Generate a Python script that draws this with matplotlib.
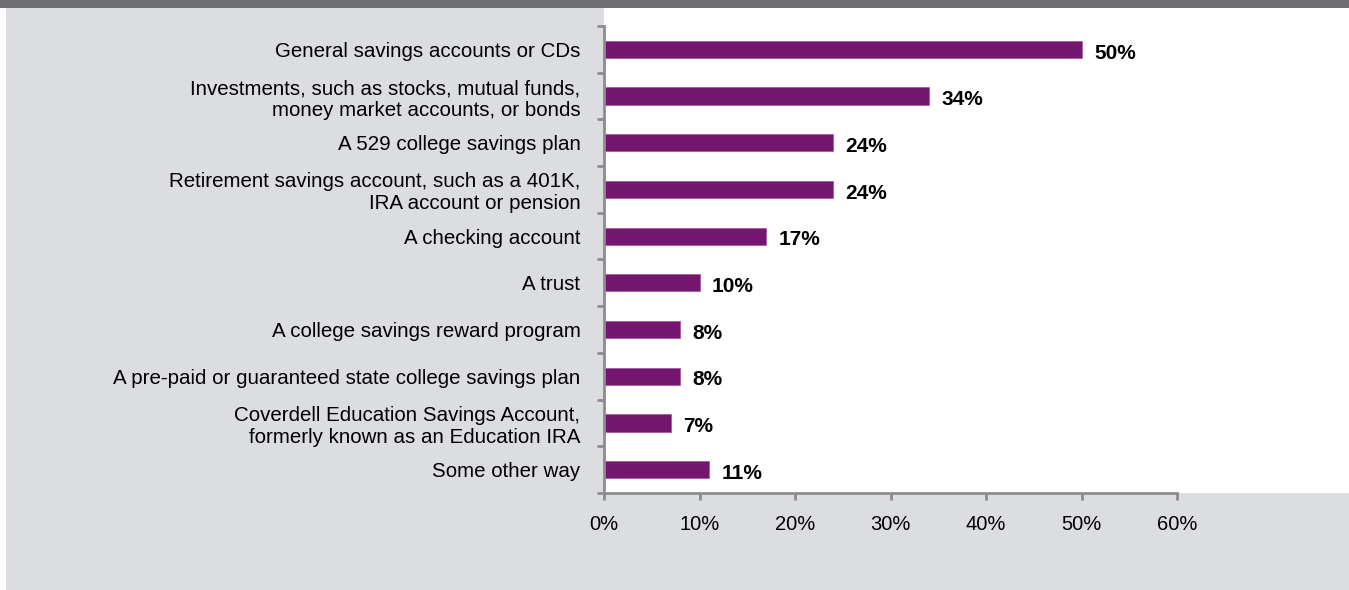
import matplotlib.pyplot as plt
from matplotlib.patches import Rectangle
from matplotlib.ticker import FuncFormatter

plt.rcParams['font.family'] = ['Liberation Sans', 'DejaVu Sans']

categories = [
    'General savings accounts or CDs',
    'Investments, such as stocks, mutual funds,\nmoney market accounts, or bonds',
    'A 529 college savings plan',
    'Retirement savings account, such as a 401K,\nIRA account or pension',
    'A checking account',
    'A trust',
    'A college savings reward program',
    'A pre-paid or guaranteed state college savings plan',
    'Coverdell Education Savings Account,\nformerly known as an Education IRA',
    'Some other way',
]
values = [50, 34, 24, 24, 17, 10, 8, 8, 7, 11]
xticks = [0, 10, 20, 30, 40, 50, 60]

W, H = 1349, 590
fig = plt.figure(figsize=(W / 100, H / 100), dpi=100)
fig.patch.set_facecolor('white')

# gray panel, dark header strip, white plotting area
fig.add_artist(Rectangle((6 / W, 0), 1, 1, transform=fig.transFigure,
                         facecolor='#dcdde0', edgecolor='none', zorder=0))
fig.add_artist(Rectangle((0, (H - 8) / H), 1, 8 / H, transform=fig.transFigure,
                         facecolor='#6f6e72', edgecolor='none', zorder=0))
fig.add_artist(Rectangle((604 / W, (H - 493) / H), 1, (493 - 8) / H,
                         transform=fig.transFigure, facecolor='white',
                         edgecolor='none', zorder=0))

ax = fig.add_axes([604 / W, (H - 493) / H, (1177 - 604) / W, (493 - 26) / H])
ax.set_facecolor('none')

y = list(range(len(categories)))
ax.barh(y, values, height=0.37, color='#74166f', edgecolor='#a45ca2',
        linewidth=0.6, zorder=2)
for yi, v in zip(y, values):
    ax.text(v + 1.3, yi + 0.08, f'{v}%', va='center', ha='left', fontsize=15,
            fontweight='bold', color='black')

ax.set_xlim(0, 60)
ax.set_ylim(len(categories) - 0.5, -0.5)
ax.set_xticks(xticks)
ax.xaxis.set_major_formatter(FuncFormatter(lambda v, p: f'{v:.0f}%'))

# category labels between boundary ticks
ax.set_yticks(y)
ax.set_yticklabels(categories, fontsize=14.8, ha='right')
ax.tick_params(axis='y', which='major', length=0, pad=17)
ax.set_yticks([i - 0.5 for i in range(len(categories) + 1)], minor=True)
ax.tick_params(axis='y', which='minor', length=5, width=2, color='#8c8c8c')
ax.tick_params(axis='x', length=5, width=2, color='#8c8c8c', labelsize=14.5,
               pad=11)

for s in ['top', 'right']:
    ax.spines[s].set_visible(False)
for s in ['left', 'bottom']:
    ax.spines[s].set_color('#8c8c8c')
    ax.spines[s].set_linewidth(2)

fig.savefig('out.png', dpi=100, facecolor=fig.get_facecolor())
